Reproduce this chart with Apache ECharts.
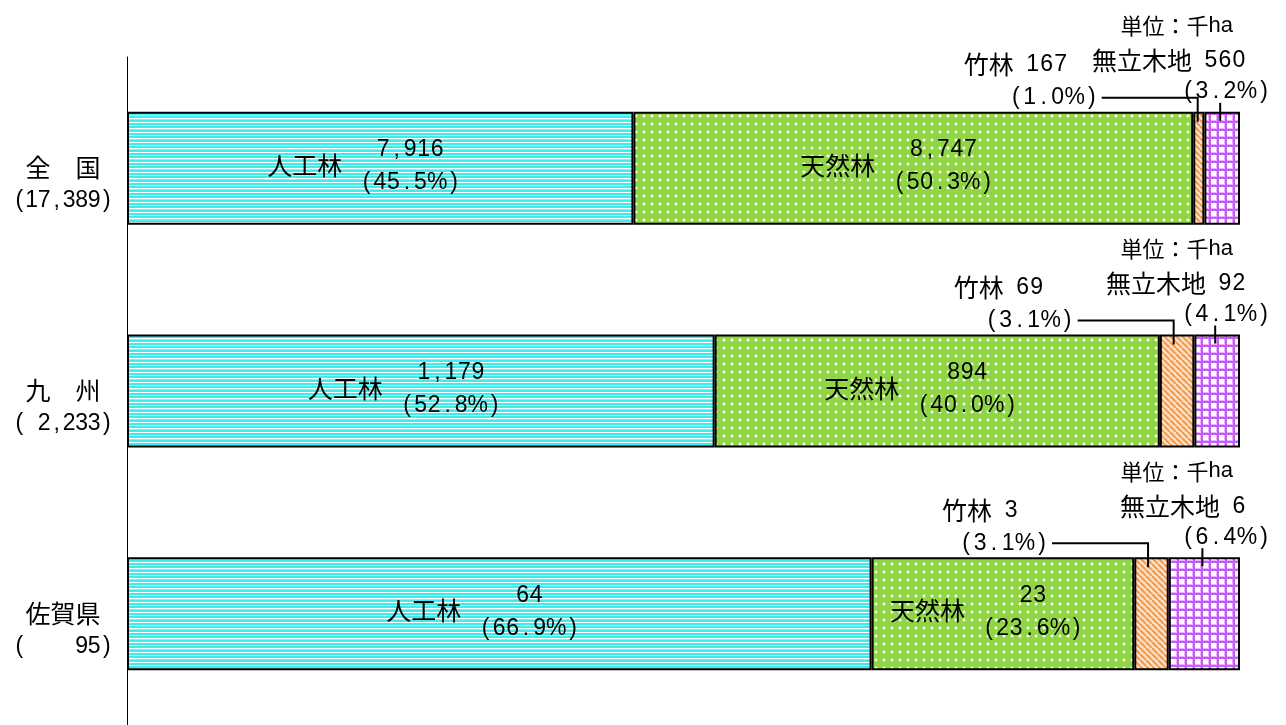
<!DOCTYPE html>
<html>
<head>
<meta charset="utf-8">
<title>森林面積の内訳</title>
<script src="https://cdn.jsdelivr.net/npm/echarts@6/dist/echarts.min.js"></script>
<style>
  html, body { margin: 0; padding: 0; background: #fff; }
  #main { width: 1286px; height: 725px; }
</style>
</head>
<body>
<div id="main"></div>
<script>
// 区分（上から順に）
var areaNames = ['全国', '九州', '佐賀県'];
var areaTitles = ['全　国', '九　州', '佐賀県'];
var areaTotals = [17389, 2233, 95];
var typeNames = ['人工林', '天然林', '竹林', '無立木地'];

// 面積（千ha）
var areaJinko = [7916, 1179, 64];
var areaTennen = [8747, 894, 23];
var areaTake = [167, 69, 3];
var areaMuritsu = [560, 92, 6];

// 構成比（％）
var pctJinko = [45.5, 52.8, 66.9];
var pctTennen = [50.3, 40.0, 23.6];
var pctTake = [1.0, 3.1, 3.1];
var pctMuritsu = [3.2, 4.1, 6.4];

var areas = [areaJinko, areaTennen, areaTake, areaMuritsu];
var pcts = [pctJinko, pctTennen, pctTake, pctMuritsu];

var CJK = '"Noto Sans CJK JP", sans-serif';
var SANS = '"Liberation Sans", Arial, sans-serif';
var BAR_H = 113;

function fmt(n) {
  return n.toLocaleString('en-US');
}

// 1文字ずつセルに入れて字間を広げる（% だけ広いセル）
function cells(str, key) {
  return str.split('').map(function (ch) {
    return '{' + key + (ch === '%' ? 'w' : '') + '|' + ch + '}';
  }).join('');
}

// 模様（キャンバスでタイルを作る）
function tile(w, h, draw) {
  var c = document.createElement('canvas');
  c.width = w;
  c.height = h;
  draw(c.getContext('2d'), w, h);
  return { image: c, repeat: 'repeat' };
}

var patCyan = tile(4, 10, function (ctx, w, h) {
  var rows = ['#3fecec', '#3fecec', '#ffffff', '#3fecec', '#3fecec', '#b4f8f8', '#3fecec', '#3fecec', '#ffffff', '#7ff3f3'];
  for (var i = 0; i < rows.length; i++) {
    ctx.fillStyle = rows[i];
    ctx.fillRect(0, i, w, 1);
  }
});

var patGreen = tile(8, 8, function (ctx, w, h) {
  ctx.fillStyle = '#90d544';
  ctx.fillRect(0, 0, w, h);
  ctx.fillStyle = '#b3e37e';
  ctx.fillRect(3, 2, 2, 1);
  ctx.fillRect(3, 5, 2, 1);
  ctx.fillRect(2, 3, 1, 2);
  ctx.fillRect(5, 3, 1, 2);
  ctx.fillStyle = '#ffffff';
  ctx.fillRect(3, 3, 2, 2);
});

var patOrange = tile(6, 6, function (ctx, w, h) {
  ctx.fillStyle = '#fde2c8';
  ctx.fillRect(0, 0, w, h);
  ctx.strokeStyle = '#f59a48';
  ctx.lineWidth = 2.2;
  for (var k = -1; k <= 1; k++) {
    ctx.beginPath();
    ctx.moveTo(k * w, 0);
    ctx.lineTo(k * w + w, h);
    ctx.stroke();
  }
});

var patPurple = tile(8, 8, function (ctx, w, h) {
  ctx.fillStyle = '#ffffff';
  ctx.fillRect(0, 0, w, h);
  ctx.fillStyle = '#e6b3ff';
  ctx.fillRect(0, 0, w, 3);
  ctx.fillRect(0, 0, 3, h);
  ctx.fillStyle = '#c95cf6';
  ctx.fillRect(0, 1, w, 2);
  ctx.fillRect(1, 0, 2, h);
});

var patterns = [patCyan, patGreen, patOrange, patPurple];

var barSeries = typeNames.map(function (name, k) {
  return {
    name: name,
    type: 'bar',
    stack: 'total',
    barWidth: BAR_H,
    data: pcts[k],
    itemStyle: {
      color: patterns[k],
      borderColor: '#000',
      borderWidth: 2
    },
    silent: true
  };
});

var richLbl = {
  c: { fontFamily: CJK, fontSize: 25, fill: '#000' },
  d: { fontFamily: SANS, fontSize: 23, fill: '#000', width: 13.5, align: 'center', lineHeight: 33 },
  dw: { fontFamily: SANS, fontSize: 23, fill: '#000', width: 20, align: 'center', lineHeight: 33 },
  p: { fontFamily: SANS, fontSize: 23, fill: '#000', width: 14, align: 'center' },
  pw: { fontFamily: SANS, fontSize: 23, fill: '#000', width: 20, align: 'center' },
  g: { width: 12 },
  u: { fontFamily: CJK, fontSize: 22, fill: '#000' },
  h: { fontFamily: SANS, fontSize: 22, fill: '#000' }
};

function txt(x, y, align, text, lineHeight) {
  return {
    type: 'text',
    x: x,
    y: y,
    style: {
      text: text,
      rich: richLbl,
      align: align,
      textAlign: align,
      verticalAlign: 'middle',
      textVerticalAlign: 'middle',
      fill: '#000',
      lineHeight: lineHeight || 30
    }
  };
}

var labelSeries = {
  type: 'custom',
  silent: true,
  z: 10,
  clip: false,
  data: areaNames.map(function (n, i) { return [0, i]; }),
  encode: { x: 0, y: 1 },
  renderItem: function (params, api) {
    var i = api.value(1);
    var cy = api.coord([0, i])[1];
    var top = cy - BAR_H / 2;
    var edge = [0];
    for (var k = 0; k < pcts.length; k++) edge.push(edge[k] + pcts[k][i]);
    var xs = edge.map(function (e) { return api.coord([e, i])[0]; });
    var kids = [];

    // 人工林・天然林（棒の中）
    for (var s = 0; s < 2; s++) {
      var mid = (xs[s] + xs[s + 1]) / 2;
      kids.push(txt(mid - 38, cy - 3, 'right', '{c|' + typeNames[s] + '}'));
      kids.push(txt(mid + 30, cy - 2, 'center',
        cells(fmt(areas[s][i]), 'd') + '\n' + cells('(' + pcts[s][i].toFixed(1) + '%)', 'd'), 33));
    }

    // 竹林（引き出し線）
    var lx = xs[2] + (xs[3] - xs[2]) * 0.4;
    var ly = top - 14;
    kids.push({
      type: 'polyline',
      shape: { points: [[lx - 96, ly], [lx, ly], [lx, top + 10]] },
      style: { stroke: '#000', lineWidth: 2, fill: null }
    });
    kids.push(txt(lx - 99, ly, 'right', cells('(' + pcts[2][i].toFixed(1) + '%)', 'p')));
    kids.push(txt(lx - 130, ly - 33, 'right',
      '{c|' + typeNames[2] + '}{g|}' + cells(fmt(areas[2][i]), 'p')));

    // 無立木地
    var mx = (xs[3] + xs[4]) / 2 - 2;
    kids.push({
      type: 'line',
      shape: { x1: mx, y1: top - 9, x2: mx, y2: top + 9 },
      style: { stroke: '#000', lineWidth: 2 }
    });
    kids.push(txt(xs[4] + 31, top - 20, 'right', cells('(' + pcts[3][i].toFixed(1) + '%)', 'p')));
    kids.push(txt(xs[4] + 6, top - 51, 'right',
      '{c|' + typeNames[3] + '}{g|}' + cells(fmt(areas[3][i]), 'p')));

    // 単位
    kids.push(txt(xs[4] - 7, top - 86, 'right', '{u|単位：千}{h|ha}'));

    return { type: 'group', children: kids };
  }
};

var chart = echarts.init(document.getElementById('main'));
chart.setOption({
  animation: false,
  backgroundColor: '#fff',
  grid: { left: 127, top: 57, width: 1113, height: 670 },
  xAxis: { type: 'value', min: 0, max: 100, show: false },
  yAxis: {
    type: 'category',
    inverse: true,
    data: areaNames,
    axisLine: { lineStyle: { color: '#000', width: 1 } },
    axisTick: { inside: true, length: 6, lineStyle: { color: '#555' } },
    axisLabel: {
      margin: 14,
      padding: [32, 0, 0, 0],
      formatter: function (v, idx) {
        var t = fmt(areaTotals[idx]);
        while (t.length < 6) t = ' ' + t;
        return '{t|' + areaTitles[idx] + '}\n' + cells('(' + t + ')', 'y');
      },
      rich: {
        t: { fontFamily: CJK, fontSize: 25, width: 100, align: 'center', lineHeight: 33, color: '#000' },
        y: { fontFamily: SANS, fontSize: 23, width: 12.5, align: 'center', lineHeight: 33, color: '#000' }
      }
    }
  },
  series: barSeries.concat([labelSeries])
});
</script>
</body>
</html>
